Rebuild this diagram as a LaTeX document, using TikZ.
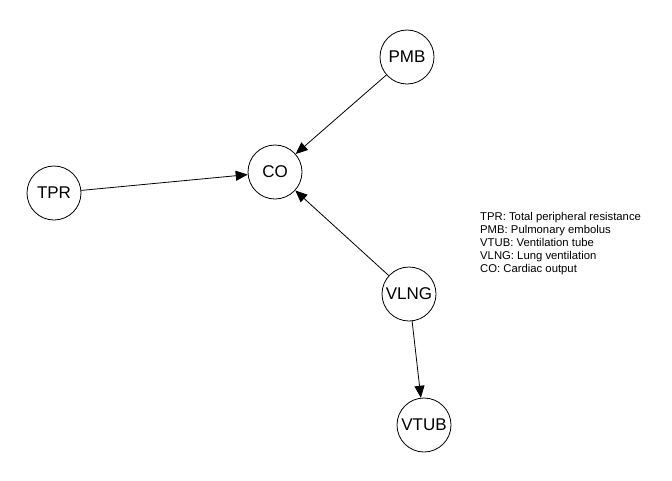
\documentclass[tikz,border=0pt]{standalone}
\usepackage{fontspec}
\setmainfont{Liberation Sans}
\usetikzlibrary{arrows.meta}
\begin{document}
\begin{tikzpicture}[x=1pt,y=-1pt,
  var/.style={circle,draw,line width=0.8pt,minimum size=54pt,inner sep=0pt,font=\fontsize{17}{20}\selectfont},
  edge/.style={line width=0.8pt,-{Triangle[length=12pt,width=10pt]}},
  legend/.style={font=\fontsize{11.3}{13}\selectfont,align=left,anchor=base west,inner sep=0pt}]
\useasboundingbox (0,0) rectangle (672,480);
\node[var] (PMB) at (407,57) {PMB};
\node[var] (CO) at (275,172) {CO};
\node[var] (TPR) at (54,193) {TPR};
\node[var] (VLNG) at (409,294) {VLNG};
\node[var] (VTUB) at (424,425) {VTUB};
\draw[edge] (PMB) -- (CO);
\draw[edge] (TPR) -- (CO);
\draw[edge] (VLNG) -- (CO);
\draw[edge] (VLNG) -- (VTUB);
\node[legend] (leg) at (480,272) {TPR: Total peripheral resistance\\PMB: Pulmonary embolus\\VTUB: Ventilation tube\\VLNG: Lung ventilation\\CO: Cardiac output};
\end{tikzpicture}
\end{document}
